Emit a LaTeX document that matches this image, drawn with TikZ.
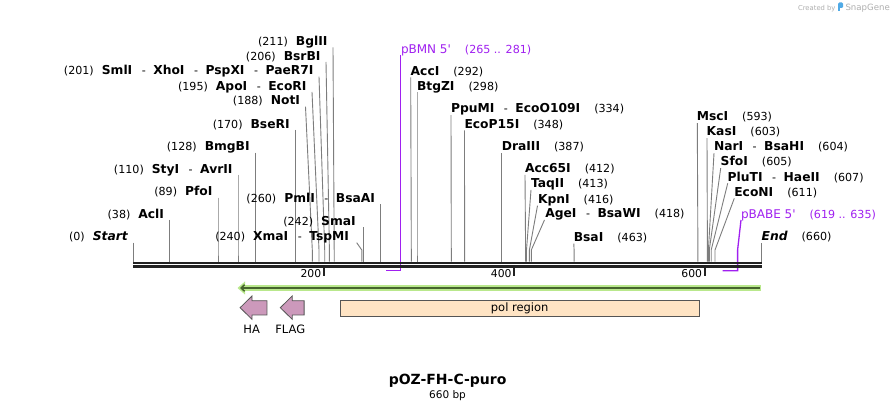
\documentclass[tikz,border=0pt]{standalone}
\usepackage{fontspec}
\setmainfont{DejaVu Sans}[Ligatures=TeXOff]
\usetikzlibrary{arrows.meta}
\definecolor{cutgray}{RGB}{125,125,125}
\definecolor{barblack}{RGB}{34,34,34}
\definecolor{primerpurple}{RGB}{160,32,240}
\definecolor{featgreen}{RGB}{185,232,140}
\definecolor{featdark}{RGB}{70,100,45}
\definecolor{tagpink}{RGB}{204,153,187}
\definecolor{polpeach}{RGB}{255,228,196}
\definecolor{edgegray}{RGB}{85,85,85}
\definecolor{sgblue}{RGB}{80,170,230}
\definecolor{sggray}{RGB}{175,175,175}
\newcommand{\numfont}{\fontsize{11.1}{13}\selectfont\mdseries\upshape}
\newcommand{\namefont}{\fontsize{12.3}{14}\selectfont\bfseries}
\newcommand{\bpn}[1]{{\numfont(#1)}}
\newcommand{\nm}[1]{{\namefont #1}}
\newcommand{\dsep}{\hspace{9.5pt}{\numfont-}\hspace{7.5pt}}
\newcommand{\lgap}{\hspace{8pt}}
\newcommand{\rgap}{\hspace{14pt}}
% id, y, label end x, line top x, site x, text
\newcommand{\siteL}[6]{%
  \node[lbl, anchor=base east] (#1) at (#3,{#2+4.3}) {#6};
  \coordinate (#1t) at (#4,{#2+6});
  \coordinate (#1k) at (#5,250);
  \coordinate (#1b) at (#5,261.7);
  \draw[cutline] (#1t) -- (#1k) -- (#1b);
}
% id, y, label start x, line top x, site x, text
\newcommand{\siteR}[6]{%
  \node[lbl, anchor=base west] (#1) at (#3,{#2+4.3}) {#6};
  \coordinate (#1t) at (#4,{#2+6.5});
  \coordinate (#1k) at (#5,250);
  \coordinate (#1b) at (#5,261.7);
  \draw[cutline] (#1t) -- (#1k) -- (#1b);
}
\begin{document}
\begin{tikzpicture}[x=1pt,y=-1pt,
  lbl/.style={inner sep=0pt, outer sep=0pt},
  cutline/.style={draw=cutgray, line width=0.9pt},
  primerline/.style={draw=primerpurple, line width=1.3pt},
  barline/.style={draw=barblack, line width=2.4pt},
  tickline/.style={draw=barblack, line width=2pt},
  ticklabel/.style={lbl, anchor=base east, font=\fontsize{10.8}{12}\selectfont},
  tagarrow/.style={fill=tagpink, draw=edgegray, line width=0.8pt},
  featlabel/.style={lbl, anchor=base, font=\fontsize{11.5}{13}\selectfont}]
\fill[white] (0,0) rectangle (895,411);
\useasboundingbox (0,0) rectangle (895,411);

% watermark
\node[lbl, anchor=base east, text=sggray, font=\fontsize{6.8}{8}\selectfont] (created) at (835.5,10.5) {Created by};
\fill[sgblue, rounded corners=1.2pt] (838.2,2.5) rectangle (843,8);
\fill[sgblue] (838.2,4) rectangle (840.2,11.5);
\node[lbl, anchor=base west, text=sggray, font=\fontsize{8.6}{10}\selectfont] (snapgene) at (845.5,10.5) {SnapGene};

% left labels
\siteL{zstart}{236.7}{127.8}{133.3}{133.3}{\bpn{0}\lgap{\namefont\itshape Start}}
\siteL{acl}{214}{164}{169.5}{169.5}{\bpn{38}\lgap\nm{AclI}}
\siteL{pfo}{191.7}{212.5}{218.0}{218.0}{\bpn{89}\lgap\nm{PfoI}}
\siteL{sty}{169}{232.5}{238.0}{238.0}{\bpn{110}\lgap\nm{StyI}\dsep\nm{AvrII}}
\siteL{bmg}{146.7}{249.7}{255.2}{255.2}{\bpn{128}\lgap\nm{BmgBI}}
\siteL{bse}{124}{289.7}{295.2}{295.2}{\bpn{170}\lgap\nm{BseRI}}
\siteL{not}{100.7}{300}{305.5}{312.3}{\bpn{188}\lgap\nm{NotI}}
\siteL{apo}{86}{306.5}{312}{319.0}{\bpn{195}\lgap\nm{ApoI}\dsep\nm{EcoRI}}
\siteL{sml}{70.7}{313.5}{319}{324.7}{\bpn{201}\lgap\nm{SmlI}\dsep\nm{XhoI}\dsep\nm{PspXI}\dsep\nm{PaeR7I}}
\siteL{bsr}{56}{320.5}{326}{329.4}{\bpn{206}\lgap\nm{BsrBI}}
\siteL{bgl}{41.5}{327.5}{333}{334.2}{\bpn{211}\lgap\nm{BglII}}
\siteL{pml}{198.5}{375}{380.8}{380.8}{\bpn{260}\lgap\nm{PmlI}\dsep\nm{BsaAI}}
\siteL{sma}{221.5}{355.7}{363.7}{363.7}{\bpn{242}\lgap\nm{SmaI}}
\siteL{xma}{236.7}{349}{356.7}{361.8}{\bpn{240}\lgap\nm{XmaI}\dsep\nm{TspMI}}

% right labels
\siteR{acc}{71}{410.7}{410.7}{411.3}{\nm{AccI}\rgap\bpn{292}}
\siteR{btg}{86}{417}{417}{417.0}{\nm{BtgZI}\rgap\bpn{298}}
\siteR{ppu}{108.7}{451}{451}{451.3}{\nm{PpuMI}\dsep\nm{EcoO109I}\rgap\bpn{334}}
\siteR{ecop}{124}{464.5}{464.5}{464.6}{\nm{EcoP15I}\rgap\bpn{348}}
\siteR{dra}{146.7}{501.8}{501.8}{501.8}{\nm{DraIII}\rgap\bpn{387}}
\siteR{acc65}{168.4}{525}{525}{525.6}{\nm{Acc65I}\rgap\bpn{412}}
\siteR{taq}{183.4}{531}{531}{526.5}{\nm{TaqII}\rgap\bpn{413}}
\siteR{kpn}{199.2}{538}{537.5}{529.4}{\nm{KpnI}\rgap\bpn{416}}
\siteR{age}{213.4}{545.3}{544.5}{531.3}{\nm{AgeI}\dsep\nm{BsaWI}\rgap\bpn{418}}
\siteR{bsa}{237.2}{573.8}{573.8}{574.1}{\nm{BsaI}\rgap\bpn{463}}
\siteR{msc}{116.7}{696.8}{697.3}{697.9}{\nm{MscI}\rgap\bpn{593}}
\siteR{kas}{131.7}{706.7}{707}{707.4}{\nm{KasI}\rgap\bpn{603}}
\siteR{nar}{146.7}{714}{714}{708.4}{\nm{NarI}\dsep\nm{BsaHI}\rgap\bpn{604}}
\siteR{sfo}{161.7}{720.7}{720.7}{709.3}{\nm{SfoI}\rgap\bpn{605}}
\siteR{plu}{176.8}{727.7}{727.7}{711.2}{\nm{PluTI}\dsep\nm{HaeII}\rgap\bpn{607}}
\siteR{econ}{191.8}{734.3}{734.3}{715.0}{\nm{EcoNI}\rgap\bpn{611}}
\siteR{zend}{236.7}{761.7}{761.7}{761.7}{{\namefont\itshape End}\rgap\bpn{660}}

% primers
\node[lbl, anchor=base west, text=primerpurple] (pbmn) at (401,53.3) {{\fontsize{12}{14}\selectfont pBMN 5'}\rgap{\numfont(265 .. 281)}};
\coordinate (pbmnt) at (400.8,55);
\coordinate (pbmnr) at (400.8,270.7);
\coordinate (pbmnl) at (385.6,270.7);
\draw[primerline] (pbmnt) -- (pbmnr) -- (pbmnl);

\node[lbl, anchor=base west, text=primerpurple] (pbabe) at (741,218.3) {{\fontsize{12}{14}\selectfont pBABE 5'}\rgap{\numfont(619 .. 635)}};
\coordinate (pbabet) at (741,220);
\coordinate (pbabek) at (737.6,250);
\coordinate (pbaber) at (737.6,270.7);
\coordinate (pbabel) at (722.6,270.7);
\draw[primerline] (pbabet) -- (pbabek) -- (pbaber) -- (pbabel);

% sequence bars
\coordinate (b1l) at (133.3,262.9);
\coordinate (b1r) at (761.7,262.9);
\coordinate (b2l) at (133.3,266.5);
\coordinate (b2r) at (761.7,266.5);
\draw[barline] (b1l) -- (b1r);
\draw[barline] (b2l) -- (b2r);

% ticks
\foreach \tx/\tl in {323.7/200, 514.1/400, 704.6/600}{
  \draw[tickline] (\tx,268) -- (\tx,276);
  \node[ticklabel] (tick\tl) at ({\tx-2.5},277.8) {\tl};
}

% green feature
\coordinate (gfl) at (240,288);
\coordinate (gfr) at (761.3,288);
\draw[featgreen, line width=6pt] ([xshift=2pt]gfl) -- (gfr);
\fill[featgreen] (237.5,288) -- (245,281.5) -- (245,294.5) -- cycle;
\draw[featdark, line width=1.5pt, {Straight Barb[length=3.5pt,width=6.5pt]}-] (gfl) -- ([xshift=-1pt]gfr);

% tags
\filldraw[tagarrow] (240.1,307.7) -- (252,296) -- (252,300.7) -- (266.9,300.7) -- (266.9,315) -- (252,315) -- (252,319.3) -- cycle;
\filldraw[tagarrow] (280.3,307.7) -- (292.2,296) -- (292.2,300.7) -- (304.1,300.7) -- (304.1,315) -- (292.2,315) -- (292.2,319.3) -- cycle;
\node[featlabel] (ha) at (251.7,334) {HA};
\node[featlabel] (flag) at (290.3,334) {FLAG};

% pol region
\node[draw=edgegray, line width=0.8pt, fill=polpeach, minimum width=358.4pt, minimum height=15.3pt, inner sep=0pt, font=\fontsize{11.5}{13}\selectfont] (pol) at (519.7,308.35) {pol region};

% title
\node[lbl, anchor=base, font=\fontsize{14}{16}\selectfont\bfseries] (title) at (447.6,384.6) {pOZ-FH-C-puro};
\node[lbl, anchor=base, font=\fontsize{10.5}{12}\selectfont] (bp) at (447.5,399) {660 bp};
\end{tikzpicture}
\end{document}
